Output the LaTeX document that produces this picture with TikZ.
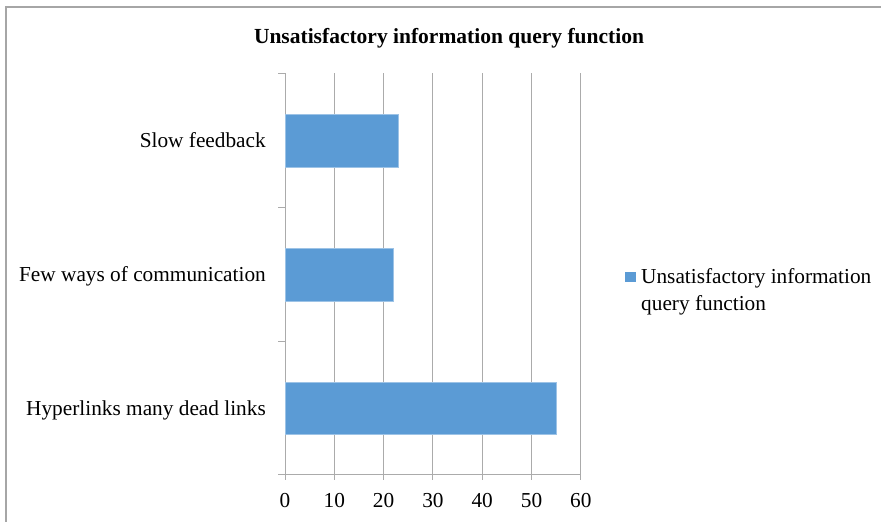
\documentclass[tikz,border=0pt]{standalone}
\usepackage{fontspec}
\setmainfont{Liberation Serif}
\definecolor{barblue}{HTML}{5B9BD5}
\definecolor{baredge}{HTML}{9DC3E6}
\definecolor{gridgrey}{HTML}{ABABAB}
\definecolor{framegrey}{HTML}{A6A6A6}
\begin{document}
\begin{tikzpicture}[x=1pt,y=-1pt,
  lbl/.style={inner sep=0pt,font=\fontsize{21.3}{27}\selectfont},
  gridline/.style={draw=gridgrey,line width=1pt},
  axisline/.style={draw=gridgrey,line width=1pt},
  bar/.style={fill=barblue,draw=baredge,line width=0.8pt}]
\useasboundingbox (0,0) rectangle (881,522);
\fill[white] (0,0) rectangle (881,522);
% chart frame (cut at right and bottom)
\draw[draw=framegrey,line width=1.2pt] (6,522) -- (6,7) -- (881,7);
% title
\node[lbl,anchor=base,font=\fontsize{21.5}{27}\selectfont\bfseries] (title) at (449,43) {Unsatisfactory information query function};
% vertical gridlines and value ticks
\foreach \v in {10,20,...,60}{
  \draw[gridline] ({285+4.93*\v},73) -- ({285+4.93*\v},480);
}
\draw[axisline] (285,73) -- (285,480);
\draw[axisline] (278,474) -- (581,474);
\foreach \y in {73,207,341}{
  \draw[axisline] (278,\y) -- (285,\y);
}
% bars
\filldraw[bar] (285,114.5) rectangle ({285+4.93*23},167.5);
\filldraw[bar] (285,248) rectangle ({285+4.93*22},301);
\filldraw[bar] (285,382) rectangle ({285+4.93*55},434);
% category labels
\node[lbl,anchor=base east] (c1) at (266,147) {Slow feedback};
\node[lbl,anchor=base east] (c2) at (266,281) {Few ways of communication};
\node[lbl,anchor=base east] (c3) at (266,415) {Hyperlinks many dead links};
% value labels
\foreach \v in {0,10,...,60}{
  \node[lbl,anchor=base] (t\v) at ({285+4.93*\v},507) {\v};
}
% legend
\fill[barblue] (625,271.5) rectangle (636,281.5);
\node[lbl,anchor=base west] (leg1) at (641,283) {Unsatisfactory information};
\node[lbl,anchor=base west] (leg2) at (641,310) {query function};
\end{tikzpicture}
\end{document}
